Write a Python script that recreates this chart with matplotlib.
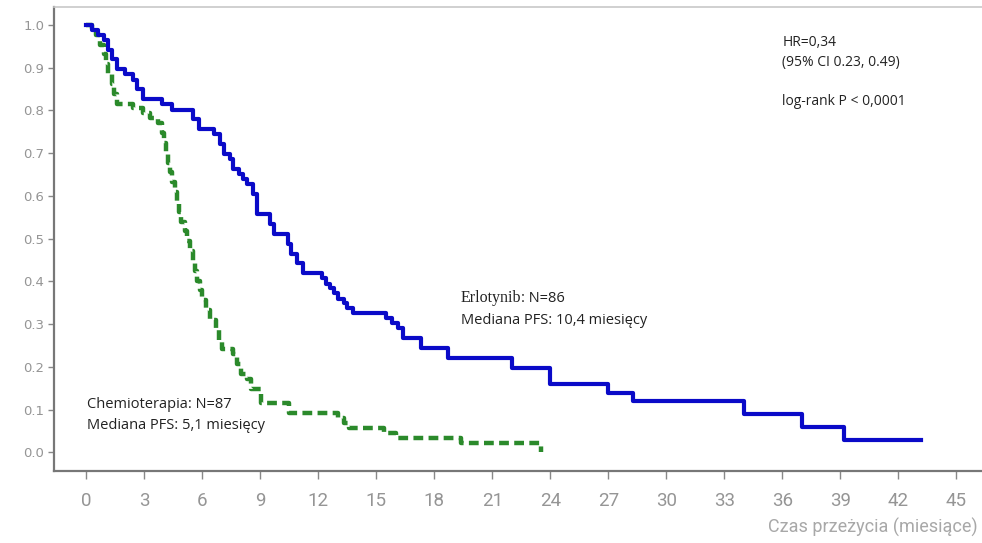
import matplotlib
matplotlib.use("Agg")
import matplotlib.pyplot as plt

# Erlotynib arm (Kaplan-Meier)
erl_t = [0, 0.3, 0.6, 0.9, 1.1, 1.3, 1.6, 2.0, 2.4, 2.6,
         2.9, 3.9, 4.4, 5.5, 5.8, 6.6, 6.9, 7.1, 7.4, 7.6,
         7.9, 8.1, 8.3, 8.6, 8.8, 9.5, 9.7, 10.4, 10.6, 10.9,
         11.2, 12.2, 12.4, 12.6, 12.8, 13.0, 13.3, 13.5, 13.8, 15.5,
         15.8, 16.1, 16.4, 17.3, 18.7, 22.0, 24.0, 27.0, 28.3, 34.0,
         37.0, 39.2, 43.2]
erl_s = [1.0, 0.988, 0.977, 0.965, 0.942, 0.919, 0.896, 0.884, 0.872, 0.849,
         0.826, 0.814, 0.802, 0.779, 0.756, 0.744, 0.721, 0.698, 0.686, 0.663,
         0.651, 0.640, 0.628, 0.605, 0.558, 0.535, 0.512, 0.488, 0.465, 0.442,
         0.419, 0.407, 0.395, 0.384, 0.372, 0.360, 0.349, 0.337, 0.326, 0.314,
         0.302, 0.291, 0.267, 0.244, 0.221, 0.198, 0.160, 0.140, 0.120, 0.090,
         0.060, 0.030, 0.030]

# Chemioterapia arm
chemo_t = [0, 0.3, 0.5, 0.7, 0.9, 1.0, 1.1, 1.3, 1.4, 1.6,
           2.4, 2.9, 3.3, 3.7, 3.9, 4.0, 4.1, 4.2, 4.3, 4.4,
           4.6, 4.7, 4.8, 4.9, 5.1, 5.2, 5.35, 5.5, 5.6, 5.7,
           5.85, 6.0, 6.2, 6.4, 6.7, 6.85, 7.0, 7.6, 7.8, 8.0,
           8.3, 8.5, 9.05, 10.5, 13.0, 13.3, 13.6, 15.4, 16.0, 19.4,
           23.5]
chemo_s = [1.0, 0.988, 0.977, 0.954, 0.931, 0.908, 0.885, 0.862, 0.839, 0.816,
           0.805, 0.793, 0.782, 0.770, 0.747, 0.724, 0.701, 0.678, 0.655, 0.632,
           0.609, 0.586, 0.563, 0.540, 0.517, 0.494, 0.471, 0.448, 0.425, 0.402,
           0.379, 0.356, 0.333, 0.310, 0.287, 0.264, 0.241, 0.230, 0.207, 0.184,
           0.172, 0.149, 0.115, 0.092, 0.080, 0.069, 0.057, 0.046, 0.034, 0.023,
           0.0]

x_ticks = list(range(0, 46, 3))
y_ticks = [0.0, 0.1, 0.2, 0.3, 0.4, 0.5, 0.6, 0.7, 0.8, 0.9, 1.0]

BLUE = "#0a0ac8"
GREEN = "#2b8a2b"
GRAY = "#959595"

fig = plt.figure(figsize=(9.82, 5.43), dpi=100)
ax = fig.add_axes([0.055, 0.1317, 0.945, 0.856])

ax.step(chemo_t, chemo_s, where="post", color=GREEN, lw=3.2,
        linestyle=(0, (2.2, 1.2)), zorder=2)
ax.step(erl_t, erl_s, where="post", color=BLUE, lw=3.0, zorder=3)

ax.set_xlim(-1.68, 46.33)
ax.set_ylim(-0.0444, 1.0425)

ax.set_xticks(x_ticks)
ax.set_xticklabels([str(v) for v in x_ticks], fontsize=13.5, color=GRAY,
                   family="Roboto")
ax.set_yticks(y_ticks)
ax.set_yticklabels(["%.1f" % v for v in y_ticks], fontsize=9.5, color=GRAY)
ax.tick_params(axis="x", direction="out", length=6, width=1, color="#888888", pad=9)
ax.tick_params(axis="y", direction="out", length=4, width=1, color="#888888", pad=3)

ax.spines["right"].set_visible(False)
ax.spines["top"].set_color("#c8c8c8")
ax.spines["top"].set_linewidth(1.2)
for s in ("left", "bottom"):
    ax.spines[s].set_color("#777777")
    ax.spines[s].set_linewidth(1.6)

fig.text(0.996, 0.018, "Czas przeżycia (miesiące)", ha="right", va="baseline",
         fontsize=13, color="#a8a8a8", family="Roboto")

txt = dict(family="Open Sans", color="#222222")
ax.text(36.0, 0.958, "HR=0,34", fontsize=10, va="center", **txt)
ax.text(36.0, 0.913, "(95% CI 0.23, 0.49)", fontsize=10, va="center", **txt)
ax.text(36.0, 0.820, "log-rank P < 0,0001", fontsize=10, va="center", **txt)

ax.text(0.05, 0.105, "Chemioterapia: N=87", fontsize=10.5, va="baseline", **txt)
ax.text(0.05, 0.056, "Mediana PFS: 5,1 miesięcy", fontsize=10.5, va="baseline", **txt)

erl = ax.text(19.35, 0.351, "Erlotynib", fontsize=11.5, va="baseline",
              family="Liberation Serif", color="#222222")
fig.canvas.draw()
bb = erl.get_window_extent(fig.canvas.get_renderer())
x_end = ax.transData.inverted().transform((bb.x1, bb.y0))[0]
ax.text(x_end, 0.351, ": N=86", fontsize=10.5, va="baseline", **txt)
ax.text(19.4, 0.300, "Mediana PFS: 10,4 miesięcy", fontsize=10.5, va="baseline", **txt)

fig.savefig("out.png", dpi=100)
